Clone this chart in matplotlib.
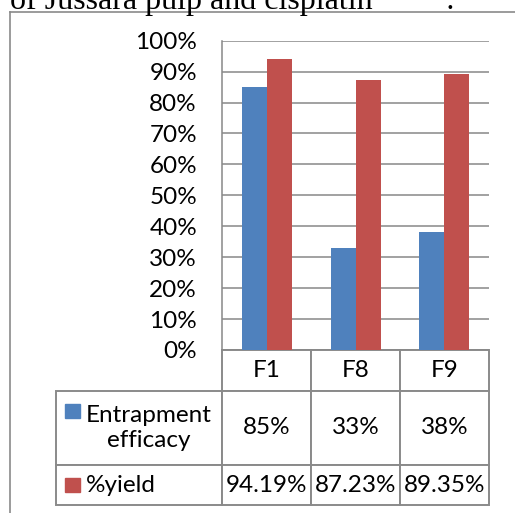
import numpy as np
import matplotlib
matplotlib.use('Agg')
import matplotlib.pyplot as plt
from matplotlib.lines import Line2D
from matplotlib.patches import Rectangle
from matplotlib.table import Table

plt.rcParams.update({
    'font.family': ['Lato', 'DejaVu Sans'],
    'font.size': 17.5,
})

# data
categories = ['F1', 'F8', 'F9']
series_names = ['Entrapment\nefficacy', '%yield']
entrapment = [0.85, 0.33, 0.38]
yield_pct = [0.9419, 0.8723, 0.8935]
entrapment_labels = ['85%', '33%', '38%']
yield_labels = ['94.19%', '87.23%', '89.35%']
yticks = [0.0, 0.1, 0.2, 0.3, 0.4, 0.5, 0.6, 0.7, 0.8, 0.9, 1.0]
ytick_labels = ['0%', '10%', '20%', '30%', '40%', '50%',
                '60%', '70%', '80%', '90%', '100%']

BLUE = '#4F81BD'
RED = '#C0504D'
GRID = '#888888'
EDGE = '#8a8a8a'

# layout in pixels (figure is 515 x 513)
W, H = 515, 513
ax_l, ax_r, ax_t, ax_b = 222, 489, 40.7, 350
lab_l = 55.7
row_h = [40.7, 74.3, 40.0]   # header, entrapment, yield


def fx(x):
    return x / W


def fy(y):
    return 1 - y / H


fig = plt.figure(figsize=(W / 100, H / 100), dpi=100)

# caption fragment cut off at the top
fig.text(fx(10), fy(9), 'of Jussara pulp and cisplatin',
         family='Liberation Serif', fontsize=23, va='baseline')
fig.text(fx(445), fy(9), ':', family='Liberation Serif', fontsize=23,
         va='baseline')

# chart frame (only top and left edges visible)
fig.add_artist(Line2D([fx(10), 1.0], [fy(11.7), fy(11.7)],
                      color=EDGE, lw=1.2))
fig.add_artist(Line2D([fx(10), fx(10)], [fy(11.7), 0.0],
                      color=EDGE, lw=1.2))

ax = fig.add_axes([fx(ax_l), fy(ax_b), (ax_r - ax_l) / W,
                   (ax_b - ax_t) / H])
x = np.arange(len(categories))
bw = 25 / 89
ax.bar(x - bw / 2, entrapment, bw, color=BLUE)
ax.bar(x + bw / 2, yield_pct, bw, color=RED)
ax.set_xlim(-0.5, 2.5)
ax.set_ylim(0, 1)
ax.set_yticks(yticks, ytick_labels)
ax.set_xticks([])
ax.yaxis.grid(True, color=GRID, lw=1.1)
ax.set_axisbelow(True)
for s in ['top', 'right', 'bottom']:
    ax.spines[s].set_visible(False)
ax.spines['left'].set_color(GRID)
ax.spines['left'].set_linewidth(1.1)
ax.tick_params(axis='y', length=0, pad=18)

# data table under the plot (sizes in axes fractions)
ax_w = ax_r - ax_l
ax_h = ax_b - ax_t
lab_w = (ax_l - lab_l) / ax_w
col_w = 1 / len(categories)
rh = [h / ax_h for h in row_h]
tab = Table(ax, bbox=[0, -sum(rh), 1, sum(rh)])
for j, cat in enumerate(categories):
    tab.add_cell(0, j, col_w, rh[0], text=cat, loc='center')
for i, (name, vals) in enumerate(zip(series_names,
                                     [entrapment_labels, yield_labels])):
    lab = tab.add_cell(i + 1, -1, lab_w, rh[i + 1], text=name, loc='left')
    lab.PAD = (86 - lab_l) / (ax_l - lab_l)
    lab.get_text().set_multialignment('center')
    for j, v in enumerate(vals):
        tab.add_cell(i + 1, j, col_w, rh[i + 1], text=v, loc='center')
tab.auto_set_font_size(False)
tab.set_fontsize(17.5)
for cell in tab.get_celld().values():
    cell.set_edgecolor(EDGE)
    cell.set_linewidth(1.4)
ax.add_table(tab)

# legend keys in the row label cells
for yc, col in [(410.8, BLUE), (484.7, RED)]:
    fig.add_artist(Rectangle((fx(65), fy(yc + 7.3)), 14.5 / W, 14.5 / H,
                             color=col))

fig.savefig('out.png', dpi=100)
